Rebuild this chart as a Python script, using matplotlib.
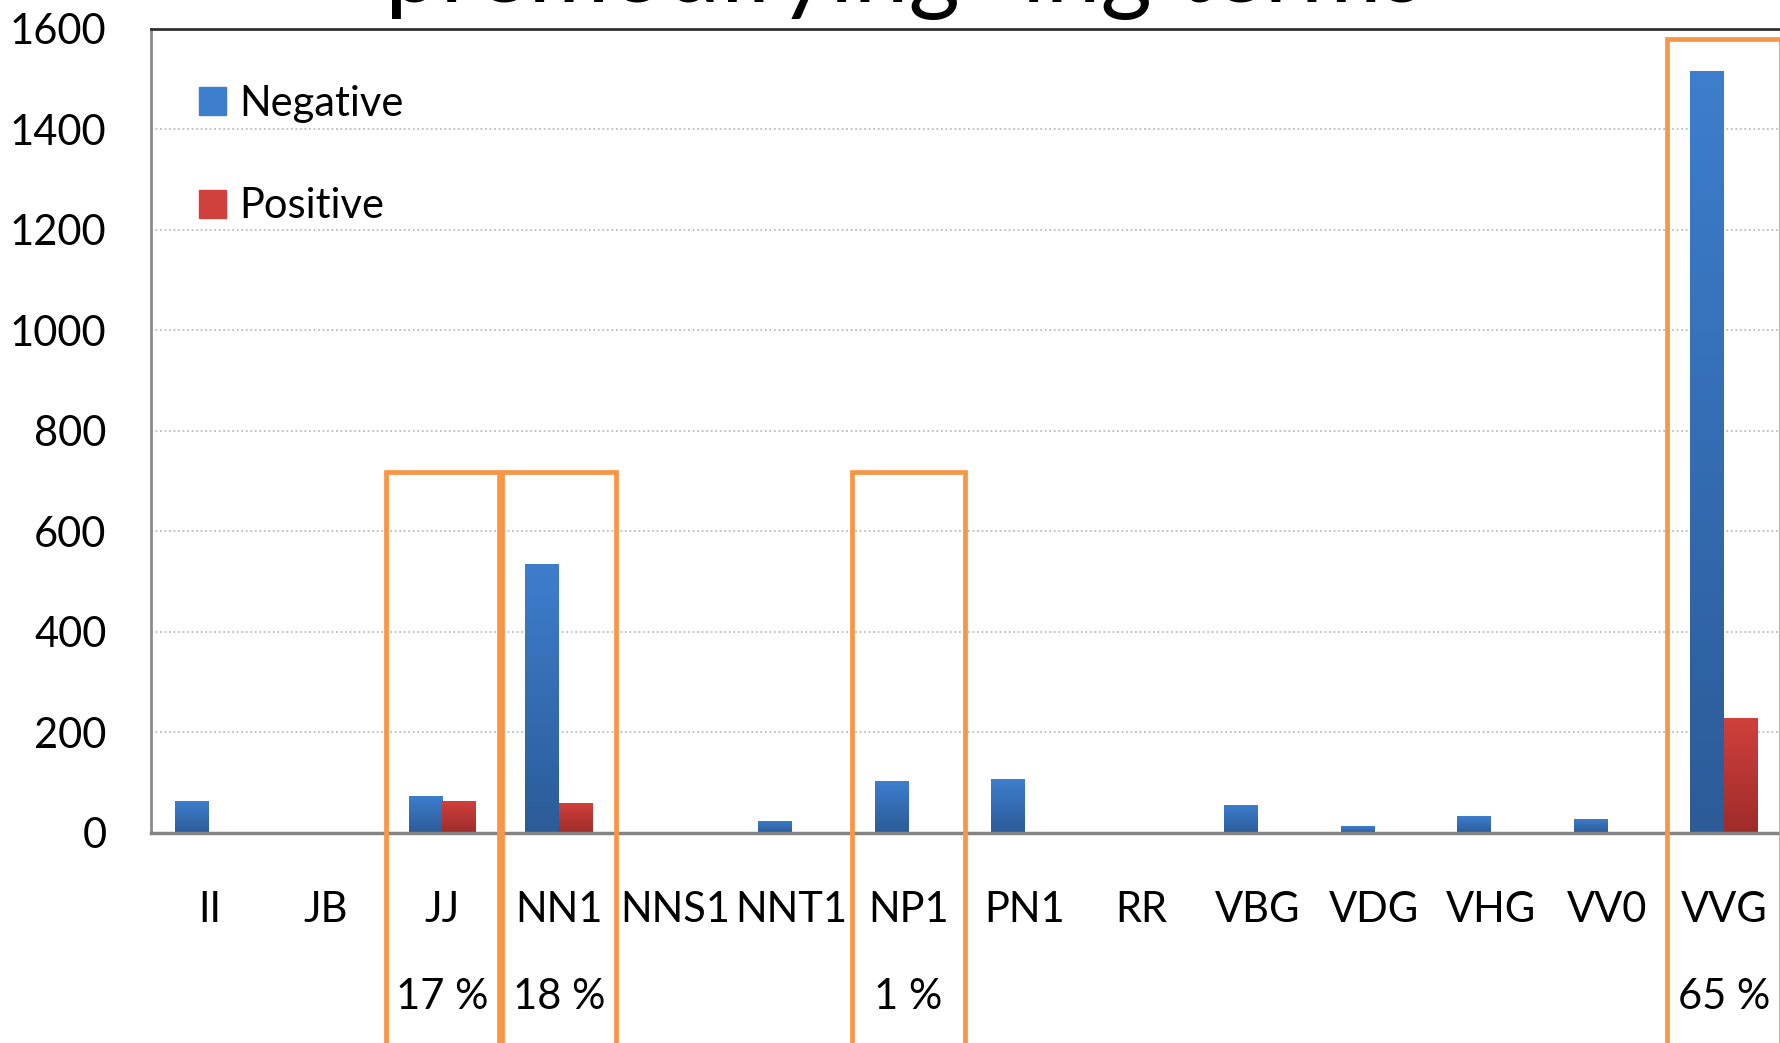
import numpy as np
import matplotlib.pyplot as plt
from matplotlib.patches import Rectangle
from matplotlib.colors import LinearSegmentedColormap
from matplotlib.transforms import blended_transform_factory

plt.rcParams['font.family'] = ['Lato', 'DejaVu Sans']

# 데이터 ---------------------------------
categories = ['II', 'JB', 'JJ', 'NN1', 'NNS1', 'NNT1', 'NP1', 'PN1',
              'RR', 'VBG', 'VDG', 'VHG', 'VV0', 'VVG']
negative = [63, 0, 72, 534, 2, 24, 102, 106, 2, 55, 13, 33, 28, 1515]
positive = [0, 2, 63, 59, 0, 0, 2, 0, 0, 0, 0, 0, 0, 228]

highlight_cats = ['JJ', 'NN1', 'NP1', 'VVG']
highlight_pct = ['17 %', '18 %', '1 %', '65 %']
highlight_top = [717, 717, 717, 1580]

title = 'premodifying -ing terms'

# 색상 ---------------------------------
blue_top, blue_bot = '#3D7ECD', '#2C5B98'
red_top, red_bot = '#D0403C', '#9E2C2A'
orange = '#F79646'

fig = plt.figure(figsize=(17.81, 10.43), dpi=100)
ax = fig.add_axes([0.0848, 0.2017, 0.9158, 0.7709])

x = np.arange(len(categories))
w = 0.29
neg_bars = ax.bar(x - w / 2, negative, w, color=blue_top, label='Negative', zorder=3)
pos_bars = ax.bar(x + w / 2, positive, w, color=red_top, label='Positive', zorder=3)


# 막대 그라데이션 채우기
def gradient_fill(bars, c_top, c_bot):
    cmap = LinearSegmentedColormap.from_list('g', [c_bot, c_top])
    grad = np.linspace(0, 1, 256).reshape(-1, 1)
    for b in bars:
        h = b.get_height()
        if h <= 0:
            continue
        x0 = b.get_x()
        im = ax.imshow(grad, cmap=cmap, aspect='auto', origin='lower',
                       extent=[x0, x0 + b.get_width(), 0, h], zorder=3)
        im.set_clip_path(b)
        b.set_alpha(0)


gradient_fill(neg_bars, blue_top, blue_bot)
gradient_fill(pos_bars, red_top, red_bot)

ax.set_xlim(-0.5, 13.5)
ax.set_ylim(0, 1600)
ax.set_yticks(np.arange(0, 1601, 200))
ax.set_xticks(x)
ax.set_xticklabels(categories)

ax.grid(axis='y', linestyle=(0, (1, 1.5)), color='#BDBDBD', linewidth=1.3, zorder=0)
ax.set_axisbelow(True)
ax.tick_params(axis='both', length=0, labelsize=30)
ax.tick_params(axis='x', pad=42)
ax.tick_params(axis='y', pad=32)

ax.spines['right'].set_visible(False)
ax.spines['top'].set_color('#303030')
ax.spines['top'].set_linewidth(2)
ax.spines['left'].set_color('#8C8C8C')
ax.spines['left'].set_linewidth(2)
ax.spines['bottom'].set_color('#848484')
ax.spines['bottom'].set_linewidth(2.5)
ax.spines['bottom'].set_zorder(4)

# 범례 ---------------------------------
leg = ax.legend(handles=[neg_bars, pos_bars], loc='upper left',
                bbox_to_anchor=(0.0294, 0.93), frameon=False, fontsize=30,
                handlelength=0.66, handleheight=0.66, handletextpad=0.3,
                labelspacing=1.55, borderpad=0, borderaxespad=0)
for h, c in zip(leg.legend_handles, [blue_top, red_top]):
    h.set_alpha(1)
    h.set_facecolor(c)
    h.set_edgecolor(c)

# 강조 박스와 비율 ---------------------------------
trans = blended_transform_factory(ax.transData, fig.transFigure)
for cat, pct, top in zip(highlight_cats, highlight_pct, highlight_top):
    i = categories.index(cat)
    ax.add_patch(Rectangle((i - 0.485, -800), 0.975, top + 800, fill=False,
                           edgecolor=orange, linewidth=3.4, clip_on=False, zorder=5))
    fig.text(i, 0.044, pct, transform=trans, ha='center', va='center', fontsize=30)

fig.text(0.508, 1 - 2 / 1043, title, ha='center', va='baseline', fontsize=71)

fig.savefig('out.png', dpi=100)
